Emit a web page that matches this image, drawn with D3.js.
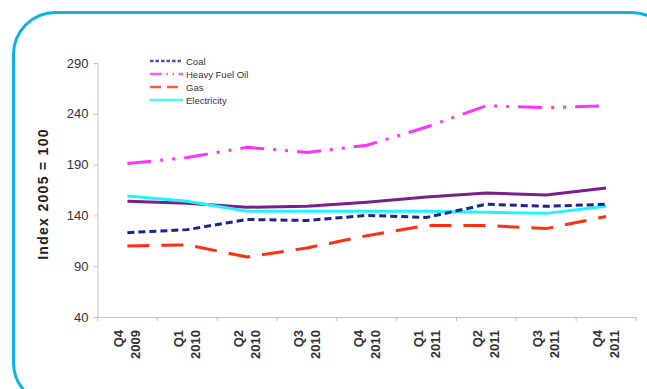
<!DOCTYPE html>
<html>
<head>
<meta charset="utf-8">
<script src="https://cdn.jsdelivr.net/npm/d3@7"></script>
<style>
  body { margin: 0; background: #fff; }
  svg { display: block; font-family: "Liberation Sans", Arial, sans-serif; }
</style>
</head>
<body>
<svg id="canvas" width="647" height="389"></svg>
<script>
let quarters = ["Q4", "Q1", "Q2", "Q3", "Q4", "Q1", "Q2", "Q3", "Q4"];
let years = ["2009", "2010", "2010", "2010", "2010", "2011", "2011", "2011", "2011"];
let yTicks = [40, 90, 140, 190, 240, 290];

let coal = [123, 126, 136, 135, 140, 138, 151, 149, 151];
let heavyFuelOil = [191, 197, 207, 202, 209, 227, 248, 246, 248];
let gas = [110, 111, 99, 108, 120, 130, 130, 127, 139];
let electricity = [159, 154, 144, 144, 144, 144, 143, 142, 149];
let other = [154, 152, 148, 149, 153, 158, 162, 160, 167];

let series = [
  { name: "Other", values: other, color: "#7b1f8c", dash: null },
  { name: "Electricity", values: electricity, color: "#22f4ff", dash: null },
  { name: "Gas", values: gas, color: "#ff3010", dash: "22,12" },
  { name: "Heavy Fuel Oil", values: heavyFuelOil, color: "#ff33ff", dash: "24,9,3,9,3,9" },
  { name: "Coal", values: coal, color: "#1c2490", dash: "7,4" }
];
let legendOrder = ["Coal", "Heavy Fuel Oil", "Gas", "Electricity"];

let canvas = d3.select("#canvas");

// rounded frame
canvas.append("rect")
  .attr("x", 13.5).attr("y", 12.5)
  .attr("width", 660).attr("height", 392)
  .attr("rx", 42).attr("ry", 42)
  .attr("fill", "none")
  .attr("stroke", "#0cb0ec")
  .attr("stroke-width", 3);

let plotLeft = 97.5, plotRight = 636, plotTop = 63, plotBottom = 317;

let x = d3.scaleBand().domain(d3.range(quarters.length)).range([plotLeft, plotRight]);
let y = d3.scaleLinear().domain([40, 290]).range([plotBottom, plotTop]);

// y axis
let yAxis = canvas.append("g")
  .attr("transform", "translate(" + plotLeft + ",0)")
  .call(d3.axisLeft(y).tickValues(yTicks).tickSize(4).tickPadding(5));
yAxis.select(".domain").attr("stroke", "#c4c4c4");
yAxis.selectAll(".tick line").attr("stroke", "#c4c4c4");
yAxis.selectAll(".tick text")
  .attr("fill", "#333")
  .style("font-size", "13px");

// x axis
let xAxis = canvas.append("g")
  .attr("transform", "translate(0," + plotBottom + ")")
  .call(d3.axisBottom(x).tickSize(0).tickFormat(""));
xAxis.select(".domain").attr("stroke", "#c4c4c4");

xAxis.selectAll(".boundary")
  .data(d3.range(quarters.length + 1))
  .enter()
  .append("line")
  .attr("x1", (i) => plotLeft + i * x.step())
  .attr("x2", (i) => plotLeft + i * x.step())
  .attr("y1", 0)
  .attr("y2", 4)
  .attr("stroke", "#c4c4c4");

let labels = canvas.append("g");
quarters.forEach((q, i) => {
  let cx = x(i) + x.bandwidth() / 2;
  let t = labels.append("text")
    .attr("transform", "translate(" + cx + ",330) rotate(-90)")
    .attr("text-anchor", "end")
    .attr("fill", "#333")
    .style("font-size", "13px")
    .style("font-weight", "bold");
  t.append("tspan").attr("x", 0).attr("dy", "-4").text(q);
  t.append("tspan").attr("x", 0).attr("dy", "17").text(years[i]);
});

// y title
canvas.append("text")
  .attr("transform", "translate(48,194) rotate(-90)")
  .attr("text-anchor", "middle")
  .attr("fill", "#222")
  .style("font-size", "14px")
  .style("font-weight", "bold")
  .style("letter-spacing", "1.3px")
  .text("Index 2005 = 100");

// lines
let line = d3.line()
  .x((d, i) => x(i) + x.bandwidth() / 2)
  .y((d) => y(d));

canvas.selectAll(".series")
  .data(series)
  .enter()
  .append("path")
  .attr("class", "series")
  .attr("d", (s) => line(s.values))
  .attr("fill", "none")
  .attr("stroke", (s) => s.color)
  .attr("stroke-width", 3)
  .attr("stroke-dasharray", (s) => s.dash);

// legend
let legend = canvas.append("g");
legendOrder.forEach((name, i) => {
  let s = series.find((d) => d.name === name);
  let ly = 61 + i * 13;
  legend.append("line")
    .attr("x1", 150).attr("x2", 183)
    .attr("y1", ly).attr("y2", ly)
    .attr("stroke", s.color)
    .attr("stroke-width", 2.5)
    .attr("stroke-opacity", 0.8)
    .attr("stroke-dasharray", s.dash ? s.dash.split(",").map((v) => v * 0.5).join(",") : null);
  legend.append("text")
    .attr("x", 186).attr("y", ly + 3.5)
    .attr("fill", "#333")
    .style("font-size", "9.5px")
    .text(name);
});
</script>
</body>
</html>
